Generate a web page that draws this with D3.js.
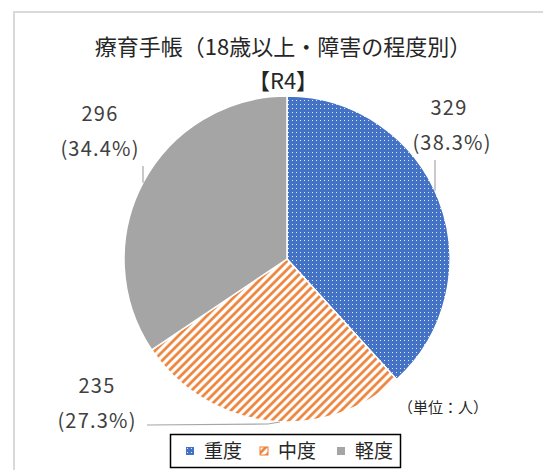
<!DOCTYPE html>
<html>
<head>
<meta charset="utf-8">
<script src="https://cdn.jsdelivr.net/npm/d3@7"></script>
<style>
  body { margin: 0; background: #fff; }
  svg { display: block; font-family: "Noto Sans CJK JP", "Noto Sans", sans-serif; }
</style>
</head>
<body>
<div id="chart"></div>
<script>
const categories = ["重度", "中度", "軽度"];
const values = [329, 235, 296];
const percentLabels = ["38.3%", "27.3%", "34.4%"];
const titleLines = ["療育手帳（18歳以上・障害の程度別）", "【R4】"];
const unitLabel = "（単位：人）";

const width = 543, height = 470;
const cx = 287, cy = 259, r = 163;

const svg = d3.select("#chart").append("svg")
    .attr("width", width)
    .attr("height", height);

// chart frame (runs off the right and bottom edge)
svg.append("rect")
    .attr("x", 14).attr("y", 12)
    .attr("width", 560).attr("height", 480)
    .attr("fill", "#fff")
    .attr("stroke", "#d9d9d9")
    .attr("stroke-width", 2);

const defs = svg.append("defs");

const dots = defs.append("pattern")
    .attr("id", "dots")
    .attr("patternUnits", "userSpaceOnUse")
    .attr("width", 4).attr("height", 4);
dots.append("rect").attr("width", 4).attr("height", 4).attr("fill", "#4472c4");
dots.append("rect").attr("x", 1).attr("y", 1).attr("width", 1).attr("height", 1).attr("fill", "#fff").attr("opacity", 0.85);

const stripes = defs.append("pattern")
    .attr("id", "stripes")
    .attr("patternUnits", "userSpaceOnUse")
    .attr("width", 6).attr("height", 6)
    .attr("patternTransform", "rotate(45)");
stripes.append("rect").attr("width", 6).attr("height", 6).attr("fill", "#fff");
stripes.append("line")
    .attr("x1", 1.5).attr("y1", 0).attr("x2", 1.5).attr("y2", 6)
    .attr("stroke", "#ed7d31").attr("stroke-width", 2.6);

const fills = ["url(#dots)", "url(#stripes)", "#a5a5a5"];

const pie = d3.pie().sort(null).value(d => d);
const arcs = pie(values);
const arc = d3.arc().innerRadius(0).outerRadius(r);

const g = svg.append("g").attr("transform", `translate(${cx},${cy})`);
g.selectAll("path.slice")
    .data(arcs)
    .join("path")
    .attr("class", "slice")
    .attr("d", arc)
    .attr("fill", (d, i) => fills[i])
    .attr("stroke", "#fff")
    .attr("stroke-width", 1.5);

// title
svg.selectAll("text.title")
    .data(titleLines)
    .join("text")
    .attr("class", "title")
    .attr("x", 283)
    .attr("y", (d, i) => 55 + i * 34)
    .attr("text-anchor", "middle")
    .attr("font-size", 22)
    .attr("fill", "#262626")
    .text(d => d);

// data labels
const labelPos = [
    { x: 449, y: 115 },
    { x: 97, y: 393 },
    { x: 100, y: 121 }
];
const labels = svg.append("g")
    .attr("fill", "#404040")
    .attr("font-size", 20)
    .attr("letter-spacing", 1.2)
    .attr("text-anchor", "middle");
arcs.forEach((a, i) => {
    labels.append("text").attr("x", labelPos[i].x).attr("y", labelPos[i].y).text(values[i]);
    labels.append("text").attr("x", labelPos[i].x + (i === 0 ? 3 : 0)).attr("y", labelPos[i].y + 35)
        .text("(" + percentLabels[i] + ")");
});

// leader lines
const edgeY = x => cy - Math.sqrt(r * r - (x - cx) * (x - cx));
const leaders = [
    [[435, 160], [435, edgeY(435)]],
    [[147, 425], [268, 424], [280, 422]],
    [[143, 166], [143, edgeY(143)]]
];
svg.selectAll("path.leader")
    .data(leaders)
    .join("path")
    .attr("class", "leader")
    .attr("d", d3.line())
    .attr("fill", "none")
    .attr("stroke", "#a6a6a6")
    .attr("stroke-width", 1.2);

// unit
svg.append("text")
    .attr("x", 398).attr("y", 413)
    .attr("font-size", 15)
    .attr("fill", "#262626")
    .text(unitLabel);

// legend
const legend = svg.append("g");
legend.append("rect")
    .attr("x", 170.5).attr("y", 434.5)
    .attr("width", 230).attr("height", 33)
    .attr("fill", "#fff")
    .attr("stroke", "#000")
    .attr("stroke-width", 1.5);
const legX = [186, 260, 337];
const item = legend.selectAll("g.item")
    .data(categories)
    .join("g")
    .attr("class", "item")
    .attr("transform", (d, i) => `translate(${legX[i]},451)`);
item.append("rect")
    .attr("x", 0).attr("y", -4)
    .attr("width", 8).attr("height", 8)
    .attr("fill", (d, i) => fills[i])
    .attr("stroke", (d, i) => i === 1 ? "#ed7d31" : "none")
    .attr("stroke-width", 1);
item.append("text")
    .attr("x", 18).attr("y", 7)
    .attr("font-size", 19)
    .attr("fill", "#262626")
    .text(d => d);
</script>
</body>
</html>
